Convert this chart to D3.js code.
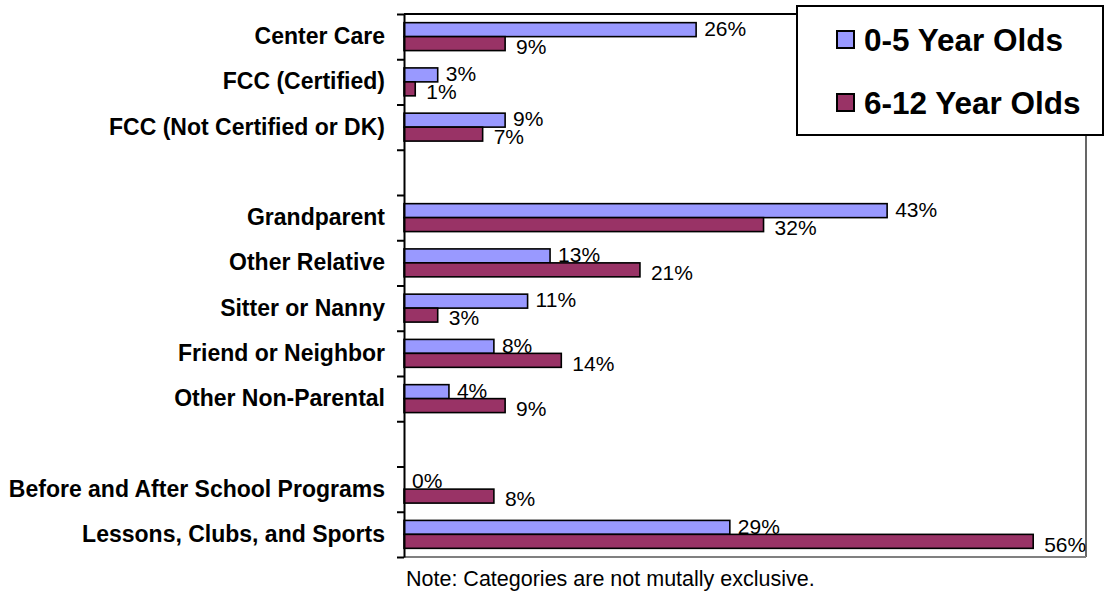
<!DOCTYPE html>
<html>
<head>
<meta charset="utf-8">
<script src="https://cdn.jsdelivr.net/npm/d3@7"></script>
<style>
  body { margin: 0; background: #fff; }
  svg { display: block; font-family: "Liberation Sans", Arial, sans-serif; }
</style>
</head>
<body>
<div id="chart"></div>
<script>
// slots in display order; empty strings are the spacer rows
const categories = [
  "Center Care", "FCC (Certified)", "FCC (Not Certified or DK)", "",
  "Grandparent", "Other Relative", "Sitter or Nanny", "Friend or Neighbor", "Other Non-Parental", "",
  "Before and After School Programs", "Lessons, Clubs, and Sports"
];
const seriesNames = ["0-5 Year Olds", "6-12 Year Olds"];
const young = [26, 3, 9, null, 43, 13, 11, 8, 4, null, 0, 29];
const older = [9, 1, 7, null, 32, 21, 3, 14, 9, null, 8, 56];
const note = "Note: Categories are not mutally exclusive.";

const colors = ["#9999FF", "#993366"];
const width = 1107, height = 592;
const plot = { left: 404, right: 1086, top: 14, bottom: 557 };

const svg = d3.select("#chart").append("svg")
  .attr("width", width)
  .attr("height", height);

const x = d3.scaleLinear()
  .domain([0, 60.7])
  .range([plot.left, plot.right]);

const y = d3.scaleBand()
  .domain(d3.range(categories.length))
  .range([plot.top, plot.bottom])
  .paddingInner(0)
  .paddingOuter(0);

const ySub = d3.scaleBand()
  .domain([0, 1])
  .range([0, y.bandwidth()])
  .paddingInner(0)
  .paddingOuter(0.62);

// plot frame: top and right black, bottom grey
svg.append("line")
  .attr("x1", plot.left).attr("x2", plot.right)
  .attr("y1", plot.top).attr("y2", plot.top)
  .attr("stroke", "#000").attr("stroke-width", 2);
svg.append("line")
  .attr("x1", plot.right).attr("x2", plot.right)
  .attr("y1", plot.top).attr("y2", plot.bottom)
  .attr("stroke", "#000").attr("stroke-width", 1.2);
svg.append("line")
  .attr("x1", plot.left).attr("x2", plot.right)
  .attr("y1", plot.bottom).attr("y2", plot.bottom)
  .attr("stroke", "#808080").attr("stroke-width", 2);

const rows = categories.map((c, i) => ({ i, vals: [young[i], older[i]] }));

const groups = svg.append("g")
  .selectAll("g")
  .data(rows.filter(r => r.vals[0] != null))
  .join("g")
    .attr("transform", d => `translate(0,${y(d.i)})`);

groups.selectAll("rect")
  .data(d => d.vals.map((v, s) => ({ v, s })))
  .join("rect")
    .attr("x", x(0))
    .attr("y", d => ySub(d.s))
    .attr("width", d => x(d.v) - x(0))
    .attr("height", ySub.bandwidth())
    .attr("fill", d => colors[d.s])
    .attr("stroke", "#000")
    .attr("stroke-width", 1.6)
    .attr("visibility", d => d.v === 0 ? "hidden" : null);

groups.selectAll("text")
  .data(d => d.vals.map((v, s) => ({ v, s })))
  .join("text")
    .attr("x", d => x(d.v) + (d.s === 0 ? 8 : 11))
    .attr("y", d => ySub(d.s) + ySub.bandwidth() / 2 + (d.s === 0 ? -1 : 3))
    .attr("dy", "0.35em")
    .attr("font-size", "21px")
    .attr("fill", "#000")
    .text(d => d.v + "%");

// category labels
const yAxis = d3.axisLeft(y)
  .tickSize(0)
  .tickPadding(19)
  .tickFormat(i => categories[i]);
svg.append("g")
  .attr("transform", `translate(${plot.left},0)`)
  .call(yAxis)
  .call(g => g.select(".domain").remove())
  .call(g => g.selectAll("text")
    .attr("font-family", "'Liberation Sans', Arial, sans-serif")
    .attr("font-size", "23px")
    .attr("font-weight", "bold")
    .attr("fill", "#000"));

// ticks between categories
const yEdges = d3.scaleLinear()
  .domain([0, categories.length])
  .range([plot.top, plot.bottom]);
svg.append("g")
  .attr("transform", `translate(${plot.left},0)`)
  .call(d3.axisLeft(yEdges).ticks(categories.length).tickSize(7).tickSizeOuter(0).tickFormat(""))
  .call(g => g.select(".domain").attr("stroke-width", 2))
  .call(g => g.selectAll(".tick line").attr("stroke-width", 2));

// legend
const legend = svg.append("g");
legend.append("rect")
  .attr("x", 797).attr("y", 6)
  .attr("width", 306).attr("height", 129)
  .attr("fill", "#fff")
  .attr("stroke", "#000")
  .attr("stroke-width", 2);
seriesNames.forEach((name, s) => {
  const cy = 40 + s * 63;
  legend.append("rect")
    .attr("x", 837).attr("y", cy - 9)
    .attr("width", 17).attr("height", 17)
    .attr("fill", colors[s])
    .attr("stroke", "#000")
    .attr("stroke-width", 2);
  legend.append("text")
    .attr("x", 864).attr("y", cy)
    .attr("dy", "0.35em")
    .attr("font-size", "31.5px")
    .attr("font-weight", "bold")
    .text(name);
});

svg.append("text")
  .attr("x", 406).attr("y", 578)
  .attr("dy", "0.35em")
  .attr("font-size", "21.5px")
  .text(note);
</script>
</body>
</html>
